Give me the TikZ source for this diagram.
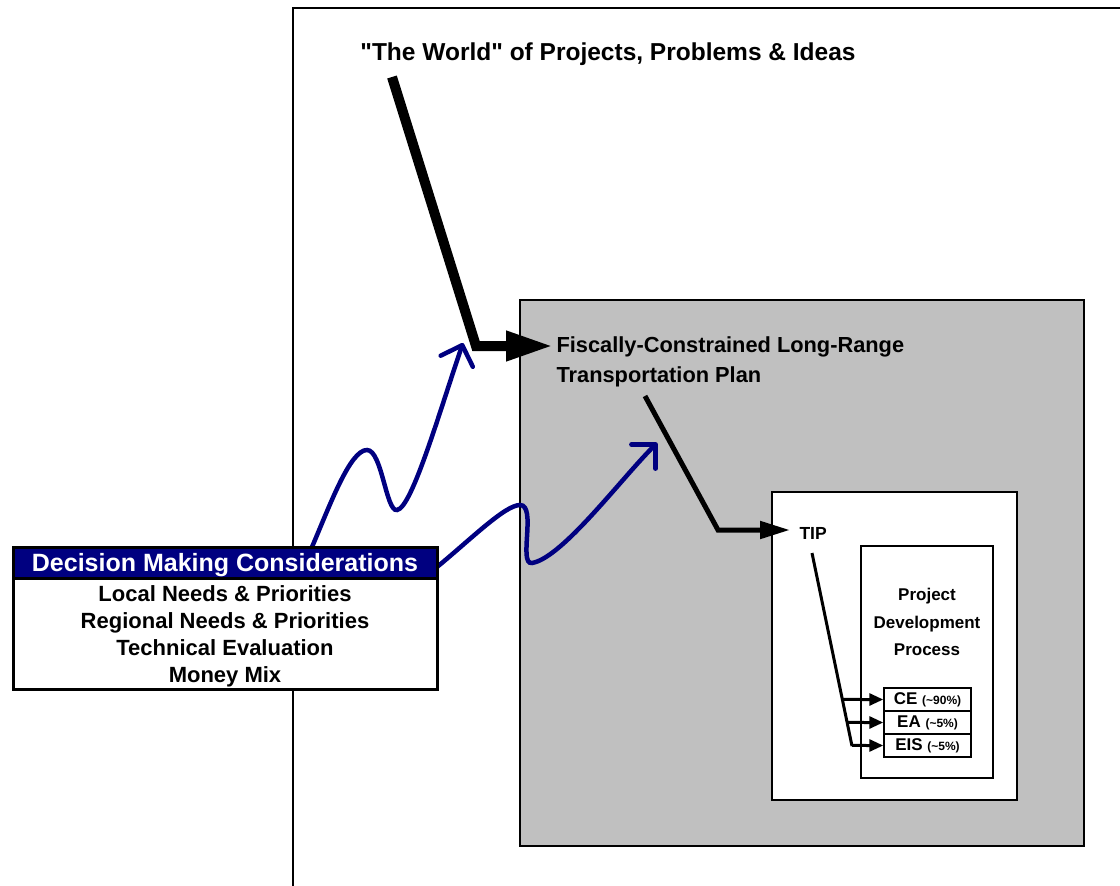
\documentclass[tikz,border=0pt]{standalone}
\usepackage{fontspec}
\setmainfont{Liberation Sans}
\usetikzlibrary{arrows.meta}
\definecolor{dmcnavy}{RGB}{0,0,128}
\definecolor{plangray}{RGB}{192,192,192}
\newcommand{\fsz}[1]{\fontsize{#1}{#1}\selectfont}

\begin{document}
\begin{tikzpicture}[x=1pt, y=-1pt, font=\bfseries, line join=miter,
    framebox/.style={draw, fill=white, line width=1.5pt},
    classbox/.style={draw, fill=white, line width=1.5pt, minimum width=87pt, minimum height=23pt, inner sep=0pt, font=\bfseries\fsz{17}},
    wavy/.style={dmcnavy, line width=4.5pt, line cap=round, -{Straight Barb[length=17pt,width=34pt,round]}}]
  \useasboundingbox (0,0) rectangle (1120,886);
  % world frame
  \draw[line width=1.5pt] (293,886) -- (293,8) -- (1120,8);
  \node[anchor=base, font=\bfseries\fsz{24.5}] (world) at (608,60) {\textquotedbl The World\textquotedbl\ of Projects, Problems \& Ideas};
  % long-range plan
  \draw[framebox, fill=plangray] (520,300) rectangle (1084,846);
  \node[anchor=west, align=left, font=\bfseries\fontsize{21.8}{30}\selectfont] (lrtp) at (553,362) {Fiscally-Constrained Long-Range\\Transportation Plan};
  % TIP and project development
  \draw[framebox] (772,492) rectangle (1017,800);
  \node[anchor=base west, font=\bfseries\fsz{17.5}] (tip) at (796,539) {TIP};
  \draw[framebox] (861,546) rectangle (993,778);
  \node[align=center, font=\bfseries\fontsize{17}{27.5}\selectfont] (pdp) at (927,622) {Project\\Development\\Process};
  \foreach \y/\n/\t/\p in {699.5/ce/CE/90, 722.5/ea/EA/5, 745.5/eis/EIS/5}
    \node[classbox] (\n) at (927.5,\y) {\t\ {\fsz{12}(\textasciitilde\p\%)}};
  % connectors
  \coordinate (wtop) at (392,77);
  \coordinate (wbend) at (476,346);
  \draw[line width=10pt, -{Triangle[length=47pt,width=28pt]}] (wtop) -- (wbend) -- (wbend -| lrtp.west);
  \coordinate (ptop) at (645,396);
  \coordinate (pbend) at (718,530);
  \draw[line width=5pt, -{Triangle[length=30pt,width=17pt]}, shorten >=6pt] (ptop) -- (pbend) -- (pbend -| tip.west);
  \coordinate (ttop) at (812,553);
  \coordinate (tbot) at (852,746);
  \draw[line width=3pt] (ttop) -- (tbot);
  \foreach \n in {ce,ea,eis}
    \draw[line width=3pt, -{Triangle[length=14pt,width=12pt]}] (intersection of ttop--tbot and \n.west--\n.east) -- (\n.west);
  % decision making considerations
  \coordinate (dtop) at (312,547);
  \coordinate (dside) at (437,567);
  \draw[wavy] (dtop) .. controls (330,505) and (350,450) .. (367,450)
    .. controls (382,450) and (386,512) .. (397,510)
    .. controls (412,508) and (440,410) .. (463,343);
  \draw[wavy] (dside) .. controls (470,540) and (505,505) .. (520,505)
    .. controls (537,505) and (518,565) .. (532,563)
    .. controls (562,558) and (620,480) .. (657,443);
  \draw[fill=white, line width=3pt] (13,547) rectangle (437,689);
  \draw[fill=dmcnavy, line width=3pt] (13,547) rectangle (437,578);
  \node[anchor=base, text=white, font=\bfseries\fsz{25}] (dmc) at (225,571.5) {Decision Making Considerations};
  \foreach \y/\n/\t in {601/local/Local Needs \& Priorities, 628/region/Regional Needs \& Priorities, 655/tech/Technical Evaluation, 682/money/Money Mix}
    \node[anchor=base, font=\bfseries\fsz{22}] (\n) at (225,\y) {\t};
\end{tikzpicture}
\end{document}
